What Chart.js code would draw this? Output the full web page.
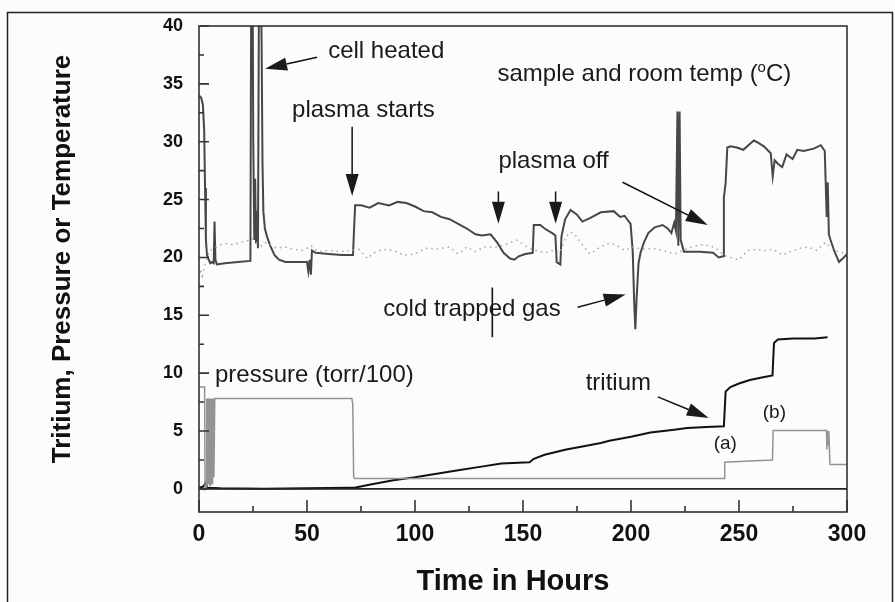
<!DOCTYPE html>
<html>
<head>
<meta charset="utf-8">
<script src="https://cdn.jsdelivr.net/npm/chart.js@4.4.0/dist/chart.umd.min.js"></script>
<style>
  html, body { margin: 0; padding: 0; background: #ffffff; }
  canvas { display: block; }
</style>
</head>
<body>
<canvas id="grafico" width="895" height="602"></canvas>
<script>
// Valores (horas / valor)
const sampleHours = [0, 1, 1.8, 2.4, 2.8, 3.2, 3.7, 4.5, 5.2, 6, 6.8, 7.2, 7.6, 8.3, 12, 18, 23.8, 24.2, 24.8, 25.1,
  25.6, 26, 26.4, 26.9, 27.3, 27.8, 28.6, 29, 29.4, 29.8, 30.5, 31.5, 33, 35, 37, 40, 45, 50, 50.6, 51.2,
  51.8, 52.3, 54, 60, 66, 71.3, 71.8, 72.3, 75, 79, 83, 88, 92, 96, 100, 104, 108, 112, 116, 120,
  124, 128, 131, 135, 138, 141, 144, 146, 148, 151, 154.5, 155, 158, 160, 163.5, 165, 165.6, 167.3, 167.8, 169.5,
  172, 175, 177.5, 181, 186, 192, 195, 197, 199.8, 200.8, 201.5, 202, 202.6, 203.5, 204.4, 206, 208, 211, 214.6, 217,
  218.7, 220, 220.8, 221.5, 221.9, 222.5, 223, 224.5, 228, 232, 238, 240.6, 242.6, 243, 243.8, 244.6, 246, 249, 252, 255,
  256.9, 259, 261.5, 264.7, 265.6, 266.5, 268, 270, 272, 274.8, 277, 280, 284.6, 287.9, 289.7, 290.6, 291.1, 291.6, 292.4, 294,
  296.3, 298, 299.5, 300];
const sampleTemp = [34, 33.8, 33.2, 31, 26, 21.5, 20.2, 19.8, 19.5, 19.6, 19.5, 23.1, 19.8, 19.4, 19.5, 19.6, 19.7, 45, 45, 30.5,
  21.5, 26.8, 21.2, 24, 20.8, 45, 45, 38.3, 28, 24, 22.5, 21.8, 21, 20.2, 19.8, 19.6, 19.6, 19.6, 18.8, 19.8,
  18.5, 20.6, 20.4, 20.3, 20.2, 20.2, 22.5, 24.5, 24.5, 24.3, 24.7, 24.5, 24.8, 24.7, 24.4, 24, 23.9, 23.5, 23.3, 22.9,
  22.5, 22, 21.9, 22, 21.3, 20.4, 19.9, 19.8, 20.1, 20.3, 20.4, 22.8, 22.8, 22.5, 22.1, 21.9, 19.6, 19.4, 21.8, 23.3,
  24.1, 23.7, 23.1, 23.4, 23.9, 24, 23.5, 23.6, 22.9, 20.5, 16, 13.8, 16.5, 19.5, 20.4, 21.3, 22.1, 22.6, 22.8, 22.5,
  22.1, 23, 22.3, 32.6, 21, 32.6, 21.5, 20.5, 20.5, 20.5, 20.4, 20, 20.1, 25.2, 26.4, 29.5, 29.6, 29.5, 29.3, 29.8,
  30.1, 29.9, 29.6, 29, 27, 28.4, 28.1, 27.8, 28.9, 28.5, 29.3, 29.2, 29.4, 29.7, 29.2, 23.5, 26.5, 22, 21.5, 20.6,
  19.6, 19.9, 20.2, 20.1];

const roomHours = [0, 0.8, 1.5, 3, 5, 8, 10, 13, 16, 19, 22, 25, 27, 29, 31, 33, 36, 40, 44, 48,
  52, 55, 60, 65, 70, 74, 78, 81, 85, 90, 95, 100, 105, 110, 116, 120, 124, 128, 132, 138,
  143, 147, 152, 156, 160, 164, 167, 170, 172, 174, 177, 181, 185, 189, 193, 197, 201, 205, 210, 215,
  220, 224, 228, 232, 237, 240, 243, 246, 250, 254, 258, 262, 266, 270, 274, 278, 282, 286, 290, 294, 298, 300];
const roomTemp = [18.2, 19, 18.4, 19.5, 20.6, 20.9, 21.1, 21.2, 21.1, 21.3, 21.4, 21.6, 21.2, 21, 21.3, 21.1, 20.8, 20.9, 20.7, 20.6,
  21, 20.5, 20.6, 20.5, 20.6, 20.7, 19.9, 20.4, 20.7, 20.6, 20.2, 20.3, 20.8, 20.7, 20.9, 20.3, 20.9, 20.5, 20.9, 20.9,
  21.2, 21.5, 20.9, 20.6, 20.4, 20.6, 20.4, 21.8, 22.2, 22, 21.2, 20.3, 20.8, 21.2, 21.1, 20.6, 20.9, 20.7, 20.8, 20.6,
  20.3, 20.6, 20.9, 21.1, 21, 20.7, 20.2, 20, 19.8, 20.6, 20.7, 20.6, 20.7, 20.2, 20.5, 20.8, 20.9, 20.6, 21.3, 20.6, 20.4, 20.2];

const tritiumHours = [0, 2, 3, 4, 10, 30, 50, 70, 72, 80, 90, 100, 110, 120, 130, 140, 153, 155, 160, 170,
  180, 186, 190, 200, 209, 220, 226, 235, 243, 243.8, 246, 250, 255, 260, 265.5, 266.2, 268, 275, 285, 291];
const tritiumLevel = [0.1, 0.2, 0.5, 0.1, 0.05, 0, 0.05, 0.1, 0.1, 0.4, 0.75, 1, 1.3, 1.6, 1.9, 2.2, 2.3, 2.6, 2.95, 3.4,
  3.75, 3.97, 4.15, 4.5, 4.87, 5.1, 5.25, 5.35, 5.4, 8.4, 8.8, 9.1, 9.4, 9.6, 9.8, 12.6, 12.9, 13, 13, 13.1];

const pressureHours = [0, 2.6, 2.8, 3.4, 3.6, 3.9, 4.2, 4.5, 4.8, 5.1, 5.4, 5.7, 6, 6.3, 6.6, 6.9, 7.3, 70.8, 71.2, 71.6,
  72, 243.2, 243.4, 255, 265.5, 265.8, 290.5, 290.7, 291, 291.3, 291.6, 292.1, 300];
const pressureLevel = [8.8, 8.8, 0, 0.2, 7.8, 0.3, 7.8, 0.4, 7.8, 0.3, 7.8, 0.5, 7.8, 0.4, 7.8, 1, 7.8, 7.8, 7.3, 1,
  0.9, 0.9, 2.3, 2.4, 2.5, 5.05, 5.05, 3.4, 5, 3.8, 5, 2.1, 2.1];

// marcas de los ejes
const xTickValues = [0, 50, 100, 150, 200, 250, 300];
const xMinorTicks = [25, 75, 125, 175, 225, 275];
const yTickValues = [0, 5, 10, 15, 20, 25, 30, 35, 40];
const yMinorTicks = [2.5, 7.5, 12.5, 17.5, 22.5, 27.5, 32.5, 37.5];
const xAxisTitle = "Time in Hours";
const yAxisTitle = "Tritium, Pressure or Temperature";

// textos y flechas del gráfico (en unidades de los ejes)
const notas = [
  { text: "cell heated", t: 59.8, v: 37.24 },
  { text: "plasma starts", t: 43.1, v: 32.1 },
  { text: "plasma off", t: 138.6, v: 27.7 },
  { text: "cold trapped gas", t: 85.3, v: 14.95 },
  { text: "tritium", t: 179.0, v: 8.55 },
  { text: "pressure (torr/100)", t: 7.4, v: 9.25 },
  { text: "(a)", t: 238.3, v: 3.46, small: true },
  { text: "(b)", t: 261.0, v: 6.13, small: true }
];
const flechas = [
  { from: [54.7, 37.3], to: [30.6, 36.3] },
  { from: [70.9, 31.3], to: [70.9, 25.3] },
  { from: [138.6, 25.7], to: [138.6, 22.9] },
  { from: [165.1, 25.7], to: [165.1, 22.9] },
  { from: [196.1, 26.5], to: [235.5, 22.8] },
  { from: [175.3, 15.7], to: [197.5, 16.8] },
  { from: [212.4, 7.95], to: [236.0, 6.13] }
];

const toPoints = (xs, ys) => xs.map((x, i) => ({ x: x, y: ys[i] }));

const dibujoFijo = {
  id: "dibujoFijo",
  beforeDraw(chart) {
    const ctx = chart.ctx;
    ctx.save();
    ctx.fillStyle = "#fcfcfc";
    ctx.fillRect(0, 0, chart.width, chart.height);
    ctx.strokeStyle = "#222";
    ctx.lineWidth = 1.5;
    ctx.strokeRect(7.5, 12.5, 885, 600);
    ctx.restore();
  },
  afterDatasetsDraw(chart) {
    const { ctx, chartArea: a, scales: { x, y } } = chart;
    ctx.save();
    ctx.strokeStyle = "#333";
    ctx.lineWidth = 1.6;
    ctx.strokeRect(a.left, a.top, a.right - a.left, a.bottom - a.top);
    // linea del cero
    ctx.strokeStyle = "#222";
    ctx.beginPath();
    ctx.moveTo(a.left, y.getPixelForValue(0));
    ctx.lineTo(a.right, y.getPixelForValue(0));
    ctx.stroke();
    // ticks hacia dentro
    ctx.strokeStyle = "#333";
    ctx.beginPath();
    xTickValues.forEach(v => { const p = x.getPixelForValue(v); ctx.moveTo(p, a.bottom); ctx.lineTo(p, a.bottom - 12); });
    xMinorTicks.forEach(v => { const p = x.getPixelForValue(v); ctx.moveTo(p, a.bottom); ctx.lineTo(p, a.bottom - 6); });
    yTickValues.forEach(v => { const p = y.getPixelForValue(v); ctx.moveTo(a.left, p); ctx.lineTo(a.left + 10, p); });
    yMinorTicks.forEach(v => { const p = y.getPixelForValue(v); ctx.moveTo(a.left, p); ctx.lineTo(a.left + 5, p); });
    ctx.stroke();
    // linea suelta cerca de "cold trapped gas"
    ctx.strokeStyle = "#111";
    ctx.beginPath();
    ctx.moveTo(x.getPixelForValue(135.8), y.getPixelForValue(17.4));
    ctx.lineTo(x.getPixelForValue(135.8), y.getPixelForValue(13.1));
    ctx.stroke();
    ctx.restore();
  },
  afterDraw(chart) {
    const { ctx, scales: { x, y } } = chart;
    ctx.save();
    ctx.fillStyle = "#1a1a1a";
    ctx.strokeStyle = "#111";
    ctx.textBaseline = "alphabetic";
    ctx.textAlign = "left";
    notas.forEach(n => {
      ctx.font = (n.small ? "19px" : "24px") + " 'Liberation Sans', Arial, sans-serif";
      ctx.fillText(n.text, x.getPixelForValue(n.t), y.getPixelForValue(n.v));
    });
    // "sample and room temp (oC)" con la o elevada
    let px = x.getPixelForValue(138.2);
    const py = y.getPixelForValue(35.25);
    ctx.font = "24px 'Liberation Sans', Arial, sans-serif";
    const parte1 = "sample and room temp (";
    ctx.fillText(parte1, px, py);
    px += ctx.measureText(parte1).width;
    ctx.font = "15px 'Liberation Sans', Arial, sans-serif";
    ctx.fillText("o", px, py - 9);
    px += ctx.measureText("o").width;
    ctx.font = "24px 'Liberation Sans', Arial, sans-serif";
    ctx.fillText("C)", px, py);

    // flechas
    ctx.lineWidth = 1.5;
    flechas.forEach(f => {
      const x0 = x.getPixelForValue(f.from[0]), y0 = y.getPixelForValue(f.from[1]);
      const x1 = x.getPixelForValue(f.to[0]), y1 = y.getPixelForValue(f.to[1]);
      const ang = Math.atan2(y1 - y0, x1 - x0);
      const len = 22, half = 6.5;
      const bx = x1 - len * Math.cos(ang), by = y1 - len * Math.sin(ang);
      ctx.beginPath();
      ctx.moveTo(x0, y0);
      ctx.lineTo(bx, by);
      ctx.stroke();
      ctx.beginPath();
      ctx.moveTo(x1, y1);
      ctx.lineTo(bx + half * Math.sin(ang), by - half * Math.cos(ang));
      ctx.lineTo(bx - half * Math.sin(ang), by + half * Math.cos(ang));
      ctx.closePath();
      ctx.fill();
    });

    // titulos de los ejes
    ctx.fillStyle = "#111";
    ctx.textAlign = "center";
    ctx.textBaseline = "middle";
    ctx.font = "bold 29px 'Liberation Sans', Arial, sans-serif";
    ctx.fillText(xAxisTitle, 513, 582);
    ctx.translate(63, 259);
    ctx.rotate(-Math.PI / 2);
    ctx.font = "bold 26px 'Liberation Sans', Arial, sans-serif";
    ctx.fillText(yAxisTitle, 0, 0);
    ctx.restore();
  }
};

const ctx = document.getElementById("grafico").getContext("2d");
new Chart(ctx, {
  type: "line",
  data: {
    datasets: [
      {
        label: "pressure (torr/100)",
        data: toPoints(pressureHours, pressureLevel),
        borderColor: "#939393",
        borderWidth: 1.5
      },
      {
        label: "room temp",
        data: toPoints(roomHours, roomTemp),
        borderColor: "#a6a6a6",
        borderWidth: 1.5,
        borderDash: [1.5, 4]
      },
      {
        label: "sample temp",
        data: toPoints(sampleHours, sampleTemp),
        borderColor: "#474747",
        borderWidth: 2
      },
      {
        label: "tritium",
        data: toPoints(tritiumHours, tritiumLevel),
        borderColor: "#111111",
        borderWidth: 2
      }
    ]
  },
  options: {
    responsive: false,
    animation: false,
    events: [],
    layout: { padding: { top: 26, right: 48, left: 0, bottom: 0 } },
    elements: { point: { radius: 0 }, line: { tension: 0 } },
    plugins: { legend: { display: false }, tooltip: { enabled: false } },
    scales: {
      x: {
        type: "linear",
        min: 0,
        max: 300,
        grid: { display: false, drawTicks: false },
        border: { display: false },
        ticks: {
          stepSize: 50,
          padding: 11,
          color: "#111",
          font: { family: "'Liberation Sans', Arial, sans-serif", size: 23, weight: "bold", lineHeight: 1 }
        },
        afterFit: s => { s.height = 90; }
      },
      y: {
        type: "linear",
        min: -2,
        max: 40,
        grid: { display: false, drawTicks: false },
        border: { display: false },
        afterBuildTicks: s => { s.ticks = yTickValues.map(v => ({ value: v })); },
        ticks: {
          padding: 16,
          color: "#111",
          font: { family: "'Liberation Sans', Arial, sans-serif", size: 18, weight: "bold", lineHeight: 1 }
        },
        afterFit: s => { s.width = 199; }
      }
    }
  },
  plugins: [dibujoFijo]
});
</script>
</body>
</html>
